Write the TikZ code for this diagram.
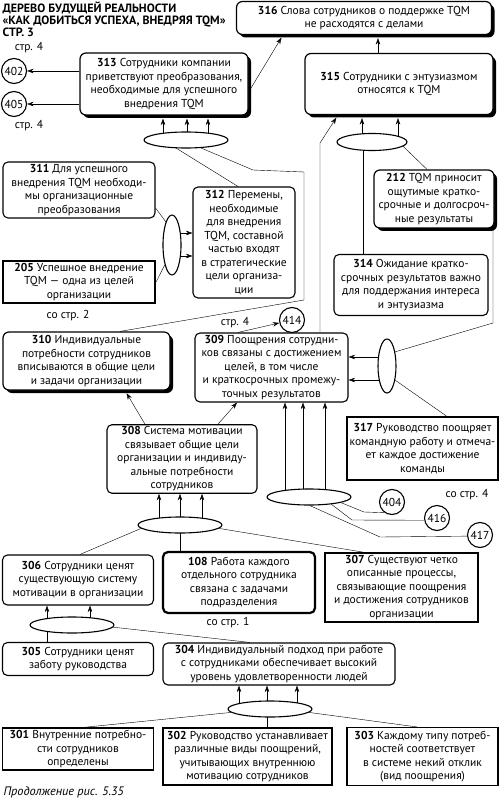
\documentclass[tikz,border=0pt]{standalone}
\usepackage{fontspec}
\setmainfont{PT Sans}
\usetikzlibrary{positioning}
\usetikzlibrary{shapes.geometric}
\usetikzlibrary{arrows.meta}
\usetikzlibrary{shadows}
\newcommand{\boxfont}{\fontsize{11.5}{13.5}\selectfont}
\tikzset{>={Stealth[length=6.5pt,width=4.5pt]}}
\tikzset{box/.style={draw, line width=1.1pt, fill=white, align=center, inner sep=2pt, font=\boxfont}}
\tikzset{rbox/.style={box, rounded corners=5pt}}
\tikzset{sbox/.style={rbox, rounded corners=6pt, line width=1.2pt, drop shadow={shadow xshift=3pt, shadow yshift=-3pt, fill=black, opacity=1}}}
\tikzset{kbox/.style={box, line width=2.2pt}}
\tikzset{ref/.style={draw, circle, line width=1.1pt, minimum size=25pt, inner sep=0pt, fill=white, font=\boxfont}}
\tikzset{andel/.style={draw, ellipse, line width=1.1pt, fill=white, inner sep=0pt, minimum width=84pt, minimum height=16pt}}
\tikzset{vandel/.style={andel, minimum width=18pt, minimum height=60pt}}
\tikzset{lbl/.style={inner sep=0pt, font=\boxfont}}
\pgfdeclarelayer{bg}
\pgfsetlayers{bg,main}

\begin{document}
\begin{tikzpicture}[x=1pt, y=-1pt, line width=1pt]
  \useasboundingbox (0,0) rectangle (500,799);

  % title
  \node[anchor=north west, align=left, inner sep=0pt, font=\fontsize{12}{12}\selectfont\bfseries] (title) at (2,2)
    {ДЕРЕВО БУДУЩЕЙ РЕАЛЬНОСТИ\\«КАК ДОБИТЬСЯ УСПЕХА, ВНЕДРЯЯ TQM»\\СТР. 3};

  % top row
  \node[sbox, minimum width=255pt, minimum height=33pt] (b316) at (364,18) {\textbf{316} Слова сотрудников о поддержке TQM\\не расходятся с делами};
  \node[sbox, minimum width=168pt, minimum height=62pt] (b313) at (164,84) {\textbf{313} Сотрудники компании\\приветствуют преобразования,\\необходимые для успешного\\внедрения TQM};
  \node[sbox, minimum width=188pt, minimum height=61pt] (b315) at (399,84) {\textbf{315} Сотрудники с энтузиазмом\\относятся к TQM};
  \node[ref] (r402) at (14,71) {402};
  \node[ref] (r405) at (14,104) {405};
  \node[lbl] (s402) at (29,48) {стр. 4};
  \node[lbl] (s405) at (29,126) {стр. 4};

  % ellipses
  \node[andel] (e313) at (186,140) {};
  \node[andel, minimum width=70pt, minimum height=17pt] (e315) at (372,142) {};
  \node[vandel] (ev312) at (172,245) {};
  \node[vandel, minimum height=54pt] (ev309) at (387,366) {};
  \node[andel] (e308) at (180,525) {};
  \node[andel] (e309) at (309,497) {};
  \node[andel] (e306) at (72,625) {};
  \node[andel] (e304) at (270,709) {};

  % middle
  \node[rbox, minimum width=102pt, minimum height=111pt] (b312) at (244,242.5) {\textbf{312} Перемены,\\необходимые\\для внедрения\\TQM, составной\\частью входят\\в стратегические\\цели организа-\\ции};
  \node[rbox, minimum width=152pt, minimum height=56pt] (b311) at (79,190) {\textbf{311} Для успешного\\внедрения TQM необходи-\\мы организационные\\преобразования};
  \node[kbox, minimum width=152pt, minimum height=41pt] (b205) at (79,282) {\textbf{205} Успешное внедрение\\TQM — одна из целей\\организации};
  \node[lbl] (s205) at (68,316) {со стр. 2};
  \node[sbox, minimum width=120pt, minimum height=58pt] (b212) at (434,199) {\textbf{212} TQM приносит\\ощутимые кратко-\\срочные и долгосроч-\\ные результаты};
  \node[rbox, minimum width=154pt, minimum height=61pt] (b314) at (411,285) {\textbf{314} Ожидание кратко-\\срочных результатов важно\\для поддержания интереса\\и энтузиазма};
  \node[rbox, minimum width=153pt, minimum height=69pt] (b309) at (271.5,367.5) {\textbf{309} Поощрения сотрудни-\\ков связаны с достижением\\целей, в том числе\\и краткосрочных промежу-\\точных результатов};
  \node[ref] (r414) at (292,320) {414};
  \node[lbl] (s414) at (235,323) {стр. 4};
  \node[sbox, minimum width=167pt, minimum height=58pt] (b310) at (86.5,361) {\textbf{310} Индивидуальные\\потребности сотрудников\\вписываются в общие цели\\и задачи организации};
  \node[box, minimum width=151pt, minimum height=63pt] (b317) at (422.5,448.5) {\textbf{317} Руководство поощряет\\командную работу и отмеча-\\ет каждое достижение\\команды};
  \node[rbox, minimum width=150pt, minimum height=68pt] (b308) at (182,459) {\textbf{308} Система мотивации\\связывает общие цели\\организации и индивиду-\\альные потребности\\сотрудников};
  \node[ref] (r404) at (392,502) {404};
  \node[ref] (r416) at (437,518) {416};
  \node[ref] (r417) at (480,535) {417};
  \node[lbl] (s404) at (467,495) {со стр. 4};

  % lower part
  \node[rbox, minimum width=151pt, minimum height=50pt] (b306) at (78,580) {\textbf{306} Сотрудники ценят\\существующую систему\\мотивации в организации};
  \node[rbox, line width=2.2pt, minimum width=152pt, minimum height=61pt] (b108) at (239,582.5) {\textbf{108} Работа каждого\\отдельного сотрудника\\связана с задачами\\подразделения};
  \node[lbl] (s108) at (228,623) {со стр. 1};
  \node[box, minimum width=153pt, minimum height=69pt] (b307) at (401.5,587.5) {\textbf{307} Существуют четко\\описанные процессы,\\связывающие поощрения\\и достижения сотрудников\\организации};
  \node[rbox, minimum width=151pt, minimum height=33pt] (b305) at (78,659) {\textbf{305} Сотрудники ценят\\заботу руководства};
  \node[rbox, minimum width=232pt, minimum height=42pt] (b304) at (279,664) {\textbf{304} Индивидуальный подход при работе\\с сотрудниками обеспечивает высокий\\уровень удовлетворенности людей};
  \node[box, minimum width=151pt, minimum height=42pt] (b301) at (78,749) {\textbf{301} Внутренние потребно-\\сти сотрудников\\определены};
  \node[box, minimum width=169pt, minimum height=57pt] (b302) at (247.5,756.5) {\textbf{302} Руководство устанавливает\\различные виды поощрений,\\учитывающих внутреннюю\\мотивацию сотрудников};
  \node[box, minimum width=151pt, minimum height=58pt] (b303) at (422.5,756.5) {\textbf{303} Каждому типу потреб-\\ностей соответствует\\в системе некий отклик\\(вид поощрения)};
  \node[lbl, anchor=west, font=\fontsize{12.3}{13}\selectfont\itshape] (cap) at (3,792) {Продолжение рис. 5.35};

  \begin{pgfonlayer}{bg}
  % to 316
  \draw[->, shorten >=3pt] (b315.north -| 378,0) -- (b316.south -| 378,0);
  \draw[->, shorten >=3pt] (b313.east |- 0,92) -- (b316.south -| 283,0);
  \draw[->] (b313.west |- 0,71) -- (r402);
  \draw[->] (b313.west |- 0,104) -- (r405);

  % to 313
  \foreach \x in {163,187,208}
    \draw[->, shorten >=3pt] (e313.center -| \x,0) -- (b313.south -| \x,0);
  \draw (b312.north -| 238,0) -- (e313.-139);
  \draw (b310.north -| 120,0) -- (304,300) -- (304,172) -- (253,170) -- (e313.-28);

  % to 315
  \draw[->, shorten >=3pt] (b309.north -| 320,0) -- (320,143) -- (b315.south -| 338,0);
  \foreach \x in {362,398}
    \draw[->, shorten >=3pt] (e315.center -| \x,0) -- (b315.south -| \x,0);
  \draw (b314.north -| 363,0) -- (e315.center -| 363,0);
  \draw (b212.north -| 427,0) -- (e315.-8);

  % to 312
  \foreach \y in {233,256}
    \draw[->] (ev312.center |- 0,\y) -- (b312.west |- 0,\y);
  \draw (b311.east |- 0,208) -- (ev312.105);
  \draw (b205.east |- 0,282) -- (ev312.-110);

  % to 309
  \foreach \y in {357,380}
    \draw[->] (ev309.center |- 0,\y) -- (b309.east |- 0,\y);
  \draw (b212.south -| 493,0) -- (493,323) -- (ev309.60);
  \draw (b317.north -| 447,0) -- (ev309.-60);
  \draw[->] (b309.north -| 238,0) -- (r414);
  \foreach \x in {285,303,325}
    \draw[->] (e309.center -| \x,0) -- (b309.south -| \x,0);
  \draw (e309.-10) -- (364,512) -- (r404.235);
  \draw (e309.-18) -- (352,520) -- (r416.190);
  \draw (e309.-85) -- (380,537) -- (r417.185);

  % to 310 and 309 from 308
  \draw[->, shorten >=3pt] (b308.north -| 145,0) -- (b310.south -| 125,0);
  \draw[->] (b308.north -| 218,0) -- (b309.south -| 237,0);
  \foreach \x in {159,180,202}
    \draw[->] (e308.center -| \x,0) -- (b308.south -| \x,0);
  \draw (b306.north -| 80,0) -- (e308.185);
  \draw (b108.north -| 180,0) -- (e308.center);
  \draw (b307.north -| 365,0) -- (e308.-5);

  % to 306
  \foreach \x in {47,90}
    \draw[->] (e306.center -| \x,0) -- (b306.south -| \x,0);
  \draw (b305.north -| 47,0) -- (e306.center -| 47,0);
  \draw (b304.north -| 250,0) -- (e306.-3);

  % to 304
  \foreach \x in {239,267,297}
    \draw[->] (e304.center -| \x,0) -- (b304.south -| \x,0);
  \draw (b301.north -| 83,0) -- (e304.185);
  \draw (b302.north -| 267,0) -- (e304.center -| 267,0);
  \draw (b303.north -| 417,0) -- (e304.-5);
  \end{pgfonlayer}
\end{tikzpicture}
\end{document}
